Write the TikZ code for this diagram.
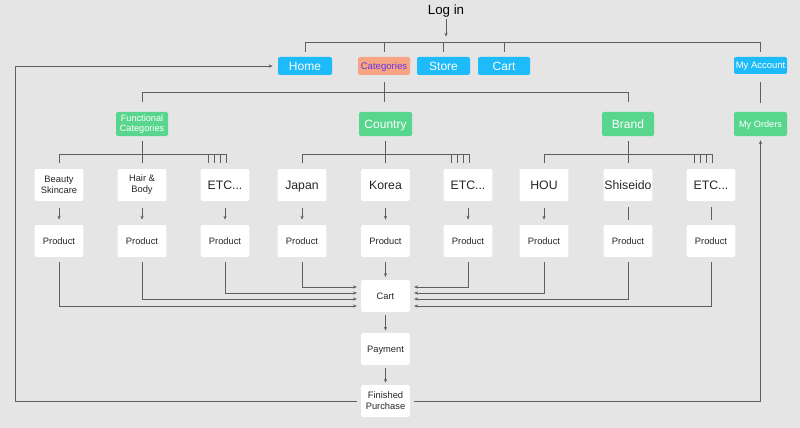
\documentclass[tikz,border=0pt]{standalone}
\usepackage{fontspec}
\setmainfont{Liberation Sans}
\usepackage{tikz}
\usetikzlibrary{arrows.meta,positioning,calc}
\usepackage{xcolor}
\definecolor{shopbg}{RGB}{229,229,229}
\definecolor{shopblue}{RGB}{29,187,249}
\definecolor{shopsalmon}{RGB}{247,164,133}
\definecolor{shoppurple}{RGB}{98,52,230}
\definecolor{shopgreen}{RGB}{88,214,141}
\definecolor{shopline}{RGB}{95,95,95}
\tikzstyle{navbox} = [rectangle, rounded corners=1.5pt, minimum width=40.5pt, minimum height=13.5pt, inner sep=0pt, text centered, fill=shopblue, text=white, font=\fontsize{9}{10}\selectfont, text height=6.5pt, text depth=0pt]
\tikzstyle{menubox} = [rectangle, rounded corners=1.5pt, minimum width=39pt, minimum height=18pt, inner sep=0pt, align=center, fill=shopgreen, text=white, font=\fontsize{9}{10}\selectfont]
\tikzstyle{itembox} = [rectangle, rounded corners=1.5pt, minimum width=36.5pt, minimum height=24pt, inner sep=0pt, align=center, fill=white, text=black!85, font=\fontsize{9.2}{10}\selectfont]
\tikzstyle{smallbox} = [itembox, font=\fontsize{7}{8.25}\selectfont]
\tikzstyle{oneline} = [text height=6.6pt, text depth=0pt]
\tikzstyle{smallline} = [text height=5pt, text depth=0pt]
\tikzstyle{link} = [line width=0.7pt, color=shopline]
\tikzstyle{arrow} = [link, -{Stealth[length=3pt,width=2.4pt]}]

\begin{document}
\begin{tikzpicture}[x=0.75pt, y=-0.75pt, node distance=42pt]
% Canvas
\fill[shopbg] (0,0) rectangle (800,428);
\useasboundingbox (0,0) rectangle (800,428);

% Log in
\node (login) [font=\fontsize{10}{12}\selectfont, inner sep=1pt] at (446,11) {Log in};

% Top menu
\node (home) [navbox] at (305,66) {Home};
\node (cats) [navbox, fill=shopsalmon, text=shoppurple, minimum width=39pt, font=\fontsize{7.2}{8}\selectfont, text height=5.2pt] at (384,66) {Categories};
\node (store) [navbox, minimum width=39.75pt] at (443.5,66) {Store};
\node (cart) [navbox, minimum width=39pt] at (504,66) {Cart};
\node (account) [navbox, minimum width=39.75pt, minimum height=12.75pt, font=\fontsize{7.1}{8}\selectfont, text height=5.1pt] at (760.5,65.5) {My Account};

% Second row
\node (func) [menubox, font=\fontsize{6.9}{8}\selectfont] at (142,124) {Functional\\Categories};
\node (country) [menubox, oneline, minimum width=39.75pt] at (385.5,124) {Country};
\node (brand) [menubox, oneline] at (628,124) {Brand};
\node (orders) [menubox, smallline, minimum width=39.75pt, font=\fontsize{6.9}{8}\selectfont] at (760.5,124) {My Orders};

% Third row
\node (beauty) [smallbox] at (59,185) {Beauty\\Skincare};
\node (hair) [smallbox] at (142,185) {Hair \&\\Body};
\node (etca) [itembox, oneline] at (225,185) {ETC...};
\node (japan) [itembox, oneline] at (302,185) {Japan};
\node (korea) [itembox, oneline] at (385.5,185) {Korea};
\node (etcb) [itembox, oneline] at (468,185) {ETC...};
\node (hou) [itembox, oneline] at (544,185) {HOU};
\node (shiseido) [itembox, oneline] at (628,185) {Shiseido};
\node (etcc) [itembox, oneline] at (711,185) {ETC...};

% Products
\node (prodbeauty) [smallbox, smallline, below of=beauty] {Product};
\node (prodhair) [smallbox, smallline, below of=hair] {Product};
\node (prodetca) [smallbox, smallline, below of=etca] {Product};
\node (prodjapan) [smallbox, smallline, below of=japan] {Product};
\node (prodkorea) [smallbox, smallline, below of=korea] {Product};
\node (prodetcb) [smallbox, smallline, below of=etcb] {Product};
\node (prodhou) [smallbox, smallline, below of=hou] {Product};
\node (prodshiseido) [smallbox, smallline, below of=shiseido] {Product};
\node (prodetcc) [smallbox, smallline, below of=etcc] {Product};

% Checkout
\node (cartbox) [smallbox, smallline] at (385.5,296) {Cart};
\node (payment) [smallbox, smallline, below of=cartbox, yshift=2.25pt] {Payment};
\node (finished) [smallbox, below of=payment, yshift=3pt] {Finished\\Purchase};

% Log in to top menu
\coordinate (navbar) at (0,42);
\draw[arrow, shorten >=4pt] (login.south) -- (login.south |- navbar);
\draw[link] (home.north |- navbar) -- (account.north |- navbar);
\draw[link, shorten >=3.75pt] (home.north |- navbar) -- (home.north);
\draw[link, shorten >=3.75pt] (cats.north |- navbar) -- (cats.north);
\draw[link, shorten >=3.75pt] (store.north |- navbar) -- (store.north);
\draw[link, shorten >=3.75pt] (cart.north |- navbar) -- (cart.north);
\draw[link, shorten >=3.75pt] (account.north |- navbar) -- (account.north);
\draw[link, shorten <=6pt, shorten >=6.75pt] (account) -- (orders);

% Categories
\coordinate (catbar) at (0,92);
\draw[link, shorten <=5.25pt, shorten >=7.5pt] (cats.south) -- (cats.south |- country.north);
\draw[link] (func.north |- catbar) -- (brand.north |- catbar);
\draw[link, shorten >=7.5pt] (func.north |- catbar) -- (func.north);
\draw[link, shorten >=7.5pt] (brand.north |- catbar) -- (brand.north);

% Sub categories
\coordinate (subbar) at (0,154);
\draw[link, shorten <=3.75pt, shorten >=4.5pt] (func.south) -- (hair.north);
\draw[link, shorten <=3.75pt, shorten >=4.5pt] (country.south) -- (korea.north);
\draw[link, shorten <=3.75pt, shorten >=4.5pt] (brand.south) -- (shiseido.north);
\draw[link] (beauty.north |- subbar) -- ($(etca.north |- subbar)+(1,0)$);
\draw[link] (japan.north |- subbar) -- ($(etcb.north |- subbar)+(1,0)$);
\draw[link] (hou.north |- subbar) -- ($(etcc.north |- subbar)+(1,0)$);
\draw[link, shorten >=4.5pt] (beauty.north |- subbar) -- (beauty.north);
\draw[link, shorten >=4.5pt] (japan.north |- subbar) -- (japan.north);
\draw[link, shorten >=4.5pt] (hou.north |- subbar) -- (hou.north);
\foreach \etc in {etca,etcb,etcc}
  \foreach \d in {-17,-11,-5,1}
    \draw[link, shorten >=4.5pt] ($(\etc.north |- subbar)+(\d,0)$) -- ($(\etc.north)+(\d,0)$);

% Items to products
\draw[arrow, shorten <=5.25pt, shorten >=3.75pt] (beauty) -- (prodbeauty);
\draw[arrow, shorten <=5.25pt, shorten >=3.75pt] (hair) -- (prodhair);
\draw[arrow, shorten <=5.25pt, shorten >=3.75pt] (etca) -- (prodetca);
\draw[arrow, shorten <=5.25pt, shorten >=3.75pt] (japan) -- (prodjapan);
\draw[arrow, shorten <=5.25pt, shorten >=3.75pt] (korea) -- (prodkorea);
\draw[arrow, shorten <=5.25pt, shorten >=3.75pt] (etcb) -- (prodetcb);
\draw[arrow, shorten <=5.25pt, shorten >=3.75pt] (hou) -- (prodhou);
\draw[link, shorten <=4.5pt, shorten >=3.75pt] (shiseido) -- (prodshiseido);
\draw[link, shorten <=4.5pt, shorten >=3.75pt] (etcc) -- (prodetcc);

% Products to cart
\draw[arrow, shorten <=3.75pt, shorten >=3pt] (prodbeauty.south) |- ([yshift=-7.5pt]cartbox.west);
\draw[arrow, shorten <=3.75pt, shorten >=3pt] (prodhair.south) |- ([yshift=-2.25pt]cartbox.west);
\draw[arrow, shorten <=3.75pt, shorten >=3pt] (prodetca.south) |- ([yshift=2.25pt]cartbox.west);
\draw[arrow, shorten <=3.75pt, shorten >=3pt] (prodjapan.south) |- ([yshift=6.75pt]cartbox.west);
\draw[arrow, shorten <=3.75pt, shorten >=2pt] (prodkorea) -- (cartbox);
\draw[arrow, shorten <=3.75pt, shorten >=3pt] (prodetcb.south) |- ([yshift=6.75pt]cartbox.east);
\draw[arrow, shorten <=3.75pt, shorten >=3pt] (prodhou.south) |- ([yshift=2.25pt]cartbox.east);
\draw[arrow, shorten <=3.75pt, shorten >=3pt] (prodshiseido.south) |- ([yshift=-2.25pt]cartbox.east);
\draw[arrow, shorten <=3.75pt, shorten >=3pt] (prodetcc.south) |- ([yshift=-7.5pt]cartbox.east);

% Checkout
\draw[arrow, shorten <=2.25pt, shorten >=1.5pt] (cartbox) -- (payment);
\draw[arrow, shorten <=2.25pt, shorten >=1.5pt] (payment) -- (finished);

% Back to home and orders
\coordinate (leftrail) at (15,0);
\draw[arrow, shorten <=3pt, shorten >=3.75pt] (finished.west) -- (finished.west -| leftrail) |- (home.west);
\draw[arrow, shorten <=3pt, shorten >=3pt] (finished.east) -| (orders.south);
\end{tikzpicture}
\end{document}
